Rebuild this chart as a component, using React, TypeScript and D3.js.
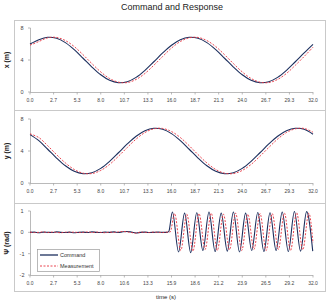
import React from 'react'
import * as d3 from 'd3'

// time base for the two position panels (s)
const posTime = [0, 1, 2, 3, 4, 5, 6, 7, 8, 9, 10, 11, 12, 13, 14, 15, 16, 17, 18, 19, 20, 21, 22, 23, 24, 25, 26, 27, 28, 29, 30, 31, 32]

const xCommand = [6.0, 6.54, 6.84, 6.71, 6.17, 5.29, 4.22, 3.12, 2.15, 1.46, 1.16, 1.29, 1.83, 2.71, 3.78, 4.88, 5.85, 6.54, 6.84, 6.71, 6.17, 5.29, 4.22, 3.12, 2.15, 1.46, 1.16, 1.29, 1.83, 2.71, 3.78, 4.88, 5.95]
const xMeasured = [5.85, 6.31, 6.77, 6.82, 6.43, 5.68, 4.66, 3.55, 2.51, 1.69, 1.23, 1.18, 1.57, 2.32, 3.34, 4.44, 5.49, 6.31, 6.77, 6.82, 6.43, 5.68, 4.66, 3.55, 2.51, 1.69, 1.23, 1.18, 1.57, 2.32, 3.34, 4.44, 5.6]

const yCommand = [6.05, 5.29, 4.22, 3.12, 2.15, 1.46, 1.16, 1.29, 1.83, 2.71, 3.78, 4.88, 5.85, 6.54, 6.84, 6.71, 6.17, 5.29, 4.22, 3.12, 2.15, 1.46, 1.16, 1.29, 1.83, 2.71, 3.78, 4.88, 5.85, 6.54, 6.84, 6.71, 6.1]
const yMeasured = [6.15, 5.68, 4.66, 3.55, 2.51, 1.69, 1.23, 1.18, 1.57, 2.32, 3.34, 4.44, 5.49, 6.31, 6.77, 6.82, 6.43, 5.68, 4.66, 3.55, 2.51, 1.69, 1.23, 1.18, 1.57, 2.32, 3.34, 4.44, 5.49, 6.31, 6.77, 6.82, 6.35]

// heading: time stamps and values, flat hold then oscillation
const psiCmdTime = [0, 0.5, 1, 1.5, 2, 2.5, 3, 3.5, 4, 4.5, 5, 5.5, 6, 6.5, 7, 7.5, 8, 8.5, 9, 9.5, 10, 10.5, 11, 11.5, 12, 12.5, 13, 13.5, 14, 14.5, 15, 15.5,
  15.7, 16.1, 16.8, 17.48, 18.17, 18.86, 19.55, 20.24, 20.93, 21.62, 22.31, 23.0, 23.69, 24.38, 25.07, 25.76, 26.45, 27.14, 27.83, 28.52, 29.21, 29.9, 30.59, 31.28, 31.97]
const psiCmd = [0.0, 0.01, -0.02, 0.01, 0.0, -0.01, 0.02, 0.0, -0.01, 0.01, -0.02, 0.0, 0.01, -0.01, 0.02, 0.0, -0.01, 0.01, 0.0, 0.02, -0.01, 0.03, 0.04, 0.01, -0.03, 0.0, 0.01, -0.01, 0.0, 0.01, 0.0, 0.0,
  0.05, 0.95, -0.92, 0.9, -0.95, 0.92, -0.85, 0.95, -0.9, 0.9, -0.88, 0.95, -0.92, 0.9, -0.85, 0.93, -0.9, 0.92, -0.85, 0.95, -0.9, 0.98, -0.88, 0.97, -0.88]

const psiMeasTime = [0, 0.5, 1, 1.5, 2, 2.5, 3, 3.5, 4, 4.5, 5, 5.5, 6, 6.5, 7, 7.5, 8, 8.5, 9, 9.5, 10, 10.5, 11, 11.5, 12, 12.5, 13, 13.5, 14, 14.5, 15, 15.5,
  15.85, 16.35, 17.05, 17.73, 18.42, 19.11, 19.8, 20.49, 21.18, 21.87, 22.56, 23.25, 23.94, 24.63, 25.32, 26.01, 26.7, 27.39, 28.08, 28.77, 29.46, 30.15, 30.84, 31.53, 32.0]
const psiMeas = [0.01, -0.01, 0.0, 0.02, -0.01, 0.01, 0.0, -0.02, 0.01, 0.0, 0.01, -0.01, 0.0, 0.02, -0.01, 0.01, 0.0, -0.02, 0.01, 0.0, 0.02, 0.04, 0.02, -0.01, -0.04, 0.01, 0.0, -0.01, 0.01, 0.0, -0.01, 0.01,
  0.02, 0.88, -0.85, 0.85, -0.88, 0.88, -0.8, 0.9, -0.85, 0.85, -0.82, 0.9, -0.85, 0.85, -0.8, 0.88, -0.85, 0.88, -0.8, 0.9, -0.85, 0.92, -0.82, 0.9, -0.5]

const timeTicks = ['0.0', '2.7', '5.3', '8.0', '10.7', '13.3', '16.0', '18.7', '21.3', '24.0', '26.7', '29.3', '32.0']
const psiTimeTicks = ['0.0', '2.7', '5.3', '8.0', '10.6', '13.3', '15.9', '18.6', '21.2', '23.9', '26.5', '29.2', '32.0']
const posTicks = [0, 4, 8]
const psiTicks = [-2, -1, 0, 1]

const FONT = "Arial, 'Liberation Sans', sans-serif"
const CMD_COLOR = '#1c2f5e'
const MEAS_COLOR = '#e8303c'

const x = d3.scaleLinear().domain([0, 32]).range([30, 313])

type Panel = {
  top: number
  bottom: number
  y: d3.ScaleLinear<number, number>
  yTicks: number[]
  xLabels: string[]
  title: string
  cmd: [number, number][]
  meas: [number, number][]
  curve: d3.CurveFactory
}

const zip = (t: number[], v: number[]) => t.map((d, i) => [d, v[i]] as [number, number])

const panels: Panel[] = [
  { top: 20, bottom: 110, y: d3.scaleLinear().domain([0, 8]).range([92, 28]), yTicks: posTicks, xLabels: timeTicks, title: 'x (m)', cmd: zip(posTime, xCommand), meas: zip(posTime, xMeasured), curve: d3.curveCatmullRom },
  { top: 110, bottom: 203, y: d3.scaleLinear().domain([0, 8]).range([183, 119]), yTicks: posTicks, xLabels: timeTicks, title: 'y (m)', cmd: zip(posTime, yCommand), meas: zip(posTime, yMeasured), curve: d3.curveCatmullRom },
  { top: 203, bottom: 291, y: d3.scaleLinear().domain([-2, 1]).range([275, 211]), yTicks: psiTicks, xLabels: psiTimeTicks, title: 'Ψ (rad)', cmd: zip(psiCmdTime, psiCmd), meas: zip(psiMeasTime, psiMeas), curve: d3.curveMonotoneX },
]

function ChartPanel({ p }: { p: Panel }) {
  const [y0, y1] = p.y.range()
  const line = d3.line<[number, number]>()
    .x(d => x(d[0]))
    .y(d => p.y(d[1]))
    .curve(p.curve)
  const tickStep = 32 / (p.xLabels.length - 1)
  return (
    <g>
      <rect x={14.5} y={p.top + 0.5} width={311} height={p.bottom - p.top} fill="#fff" stroke="#c9c9c9" />
      {/* y axis */}
      <line x1={30.5} x2={30.5} y1={y1} y2={y0} stroke="#a8a8a8" strokeWidth={0.8} />
      {p.yTicks.map(t => (
        <g key={t}>
          <line x1={28} x2={30.5} y1={p.y(t)} y2={p.y(t)} stroke="#a8a8a8" strokeWidth={0.8} />
          <text x={22} y={p.y(t)} dy="0.35em" textAnchor="middle" fontSize={5.5} fill="#444" fontFamily={FONT}>{t}</text>
        </g>
      ))}
      {/* x axis */}
      <line x1={30} x2={313} y1={y0 + 0.5} y2={y0 + 0.5} stroke="#a8a8a8" strokeWidth={0.8} />
      {p.xLabels.map((lbl, i) => (
        <g key={i}>
          <line x1={x(i * tickStep)} x2={x(i * tickStep)} y1={y0} y2={y0 + 2.5} stroke="#a8a8a8" strokeWidth={0.8} />
          <text x={x(i * tickStep)} y={y0 + 10} textAnchor="middle" fontSize={5} fill="#444" fontFamily={FONT}>{lbl}</text>
        </g>
      ))}
      <text transform={`translate(7,${(y0 + y1) / 2}) rotate(-90)`} textAnchor="middle" dominantBaseline="middle" fontSize={7} fontWeight="bold" fill="#222" fontFamily={FONT}>{p.title}</text>
      <path d={line(p.cmd) ?? ''} fill="none" stroke={CMD_COLOR} strokeWidth={1.1} />
      <path d={line(p.meas) ?? ''} fill="none" stroke={MEAS_COLOR} strokeWidth={0.9} strokeDasharray="2,1.5" />
    </g>
  )
}

export default function App() {
  return (
    <svg width={329} height={302} style={{ position: 'absolute', left: 0, top: 0, background: '#fff' }}>
      <text x={172} y={10} textAnchor="middle" fontSize={9} fill="#222" fontFamily={FONT}>Command and Response</text>
      {panels.map((p, i) => <ChartPanel key={i} p={p} />)}
      {/* legend */}
      <g fontFamily={FONT} fontSize={5.5} fill="#333">
        <rect x={37.5} y={249.5} width={62} height={22} fill="#fff" stroke="#9a9a9a" strokeWidth={0.7} />
        <line x1={40} x2={58} y1={255} y2={255} stroke={CMD_COLOR} strokeWidth={1.3} />
        <text x={60} y={255} dy="0.35em">Command</text>
        <line x1={40} x2={58} y1={266} y2={266} stroke={MEAS_COLOR} strokeWidth={0.9} strokeDasharray="2,1.5" />
        <text x={60} y={266} dy="0.35em">Measurement</text>
      </g>
      <text x={166} y={299} textAnchor="middle" fontSize={6} fill="#222" fontFamily={FONT}>time (s)</text>
    </svg>
  )
}
